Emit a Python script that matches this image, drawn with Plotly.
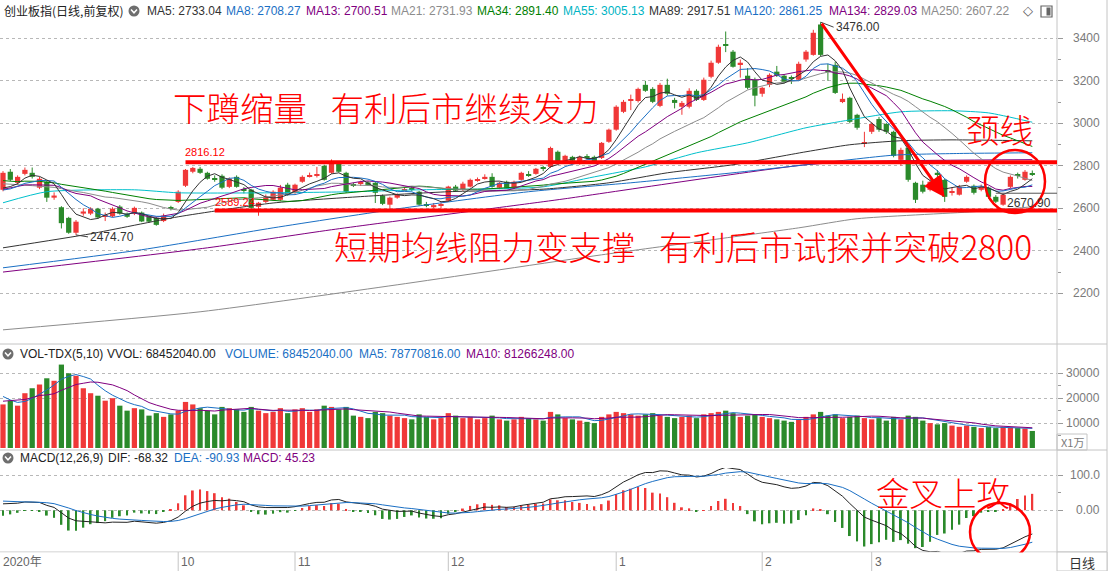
import numpy as np
import pandas as pd
import plotly.graph_objects as go

W, H = 1109, 571

# ---------------- data ----------------
holidays = ["2020-10-01", "2020-10-02", "2020-10-05", "2020-10-06", "2020-10-07", "2020-10-08",
            "2021-01-01", "2021-02-11", "2021-02-12", "2021-02-15", "2021-02-16", "2021-02-17"]
dates = [d.strftime("%Y-%m-%d") for d in pd.bdate_range("2020-08-28", "2021-03-31")
         if d.strftime("%Y-%m-%d") not in holidays]

opens = [
    2687, 2772, 2720, 2762, 2767, 2697, 2725, 2650, 2605, 2555,
    2485, 2575, 2575, 2598, 2560, 2562, 2608, 2575, 2574, 2580,
    2560, 2555, 2540, 2602, 2630, 2706, 2772, 2786, 2767, 2742,
    2753, 2701, 2748, 2690, 2688, 2607, 2630, 2640, 2640, 2711,
    2673, 2725, 2750, 2752, 2800, 2767, 2814, 2767, 2712, 2715,
    2722, 2720, 2659, 2617, 2650, 2685, 2695, 2678, 2620, 2605,
    2612, 2636, 2702, 2687, 2702, 2733, 2739, 2748, 2697, 2725,
    2697, 2734, 2760, 2762, 2790, 2795, 2866, 2819, 2842, 2819,
    2845, 2842, 2837, 2913, 2970, 3054, 3105, 3105, 3181, 3162,
    3082, 3181, 3110, 3078, 3078, 3153, 3110, 3219, 3285, 3370,
    3337, 3276, 3224, 3205, 3139, 3181, 3243, 3224, 3214, 3205,
    3300, 3322, 3465, 3250, 3275, 3100, 3120, 3040, 2905, 2960,
    3020, 2997, 2960, 2828, 2885, 2720, 2711, 2687, 2767, 2734,
    2675, 2664, 2725, 2706, 2687, 2697, 2654, 2617, 2701, 2757,
    2734, 2765]
highs = [
    2775, 2785, 2755, 2792, 2792, 2748, 2730, 2675, 2610, 2560,
    2545, 2600, 2605, 2602, 2580, 2605, 2615, 2580, 2608, 2585,
    2565, 2560, 2575, 2612, 2685, 2785, 2795, 2795, 2772, 2755,
    2760, 2745, 2755, 2700, 2692, 2630, 2665, 2685, 2710, 2720,
    2716, 2755, 2768, 2795, 2805, 2830, 2818, 2772, 2720, 2730,
    2728, 2725, 2665, 2655, 2670, 2700, 2705, 2682, 2630, 2625,
    2628, 2706, 2710, 2725, 2740, 2745, 2760, 2765, 2725, 2730,
    2730, 2772, 2775, 2790, 2800, 2890, 2872, 2852, 2847, 2848,
    2855, 2848, 2912, 2975, 3085, 3110, 3135, 3168, 3200, 3170,
    3190, 3210, 3120, 3105, 3165, 3160, 3215, 3295, 3370, 3432,
    3345, 3300, 3260, 3215, 3172, 3235, 3270, 3232, 3225, 3290,
    3345, 3440, 3476, 3280, 3290, 3140, 3125, 3045, 2960, 3005,
    3030, 3002, 2965, 2885, 2890, 2725, 2730, 2735, 2780, 2740,
    2700, 2710, 2755, 2712, 2712, 2702, 2662, 2670, 2755, 2768,
    2780, 2778]
lows = [
    2680, 2728, 2712, 2755, 2740, 2690, 2630, 2640, 2505, 2480,
    2474.7, 2565, 2568, 2550, 2540, 2558, 2570, 2555, 2568, 2535,
    2532, 2518, 2535, 2590, 2625, 2700, 2765, 2762, 2735, 2725,
    2690, 2695, 2697, 2670, 2595, 2565, 2625, 2635, 2635, 2660,
    2668, 2720, 2745, 2745, 2730, 2762, 2768, 2672, 2700, 2705,
    2705, 2625, 2615, 2595, 2645, 2680, 2680, 2612, 2605, 2600,
    2600, 2630, 2678, 2682, 2698, 2725, 2735, 2697, 2690, 2692,
    2692, 2730, 2748, 2758, 2775, 2790, 2815, 2812, 2815, 2805,
    2830, 2815, 2832, 2908, 2965, 3048, 3062, 3098, 3148, 3095,
    3076, 3130, 3070, 3040, 3070, 3105, 3105, 3212, 3280, 3335,
    3262, 3215, 3160, 3080, 3125, 3170, 3218, 3188, 3185, 3200,
    3290, 3318, 3315, 3200, 3138, 3095, 3000, 2970, 2888, 2950,
    2960, 2950, 2840, 2800, 2725, 2625, 2670, 2680, 2740, 2630,
    2660, 2660, 2720, 2665, 2680, 2645, 2625, 2612, 2695, 2740,
    2730, 2752]
closes = [
    2767, 2734, 2748, 2781, 2748, 2739, 2650, 2660, 2530, 2485,
    2537, 2585, 2598, 2557, 2566, 2598, 2575, 2560, 2602, 2538,
    2537, 2522, 2565, 2597, 2678, 2781, 2790, 2767, 2739, 2737,
    2697, 2739, 2701, 2683, 2602, 2626, 2655, 2678, 2697, 2664,
    2711, 2748, 2755, 2757, 2734, 2816, 2772, 2678, 2707, 2722,
    2710, 2673, 2621, 2650, 2664, 2690, 2690, 2617, 2615, 2615,
    2618, 2702, 2683, 2716, 2734, 2737, 2748, 2701, 2720, 2697,
    2725, 2767, 2755, 2786, 2785, 2884, 2819, 2847, 2824, 2842,
    2840, 2820, 2908, 2970, 3078, 3101, 3112, 3162, 3153, 3101,
    3181, 3139, 3096, 3096, 3153, 3110, 3205, 3285, 3360, 3364,
    3266, 3285, 3167, 3130, 3167, 3228, 3224, 3195, 3210, 3280,
    3337, 3426, 3322, 3243, 3143, 3115, 3007, 2979, 2910, 2997,
    2970, 2960, 2847, 2875, 2734, 2640, 2678, 2725, 2758, 2654,
    2680, 2701, 2748, 2673, 2701, 2654, 2631, 2664, 2748, 2752,
    2772, 2760]
# volume, unit: 10k (X1万)
volumes = [
    17500, 19000, 17000, 22000, 24000, 25500, 28000, 27000, 33500, 30000,
    29000, 24000, 22000, 21000, 19000, 20000, 17000, 15000, 16000, 15500,
    13000, 14000, 12500, 13500, 15000, 18500, 17500, 16000, 15000, 13500,
    16500, 16000, 15500, 14500, 16500, 15000, 14000, 14500, 16000, 14000,
    15500, 16000, 14500, 15500, 17000, 16500, 15500, 16500, 13000, 12500,
    12000, 14500, 14000, 13000, 12500, 12000, 11500, 13500, 12500, 11500,
    12000, 14000, 13000, 12000, 12500, 11500, 12000, 13000, 11500, 11000,
    11500, 12500, 12000, 11500, 11000, 14500, 13500, 12000, 11500, 11000,
    10500, 10000, 12500, 13500, 14500, 14000, 13500, 13000, 13500, 14000,
    13000, 12500, 12000, 12500, 13000, 12000, 13500, 14000, 14500, 15000,
    14000, 12500, 13000, 13500, 12500, 12000, 11500, 11000, 10500, 11500,
    12500, 13500, 14500, 13000, 13500, 12000, 12500, 13000, 12000, 11500,
    12000, 11000, 12500, 11500, 13000, 12500, 11000, 10000, 9500, 10000,
    9000, 8500, 9000, 8500, 8000, 8400, 8000, 8500, 8200, 8000,
    7840, 6845]

# closes / volumes before the window (needed for the moving averages)
pre_closes = [2850, 2800, 2700, 2730, 2780, 2790, 2760, 2770, 2660, 2700, 2710, 2770, 2780, 2800,
              2810, 2790, 2800, 2780, 2740, 2700, 2650, 2640, 2660, 2690, 2740, 2740, 2690, 2650,
              2670, 2700, 2680, 2650, 2680]
pre_volumes = [16000, 17000, 18000, 17000, 16500, 26000, 22000, 20000, 18000]
# MACD state carried in from before the window: EMA12, EMA26, DEA
macd_seed = [2700.0, 2686.0, 28.0]

# long moving averages (day index -> value)
ma55_idx = [0, 6, 18, 24, 37, 48, 57, 68, 74, 81, 88, 95, 102, 110, 116, 123, 130, 135, 141]
ma55_val = [2626, 2678, 2687, 2673, 2673, 2678, 2687, 2692, 2701, 2748, 2795, 2861, 2908, 2979,
            3016, 3054, 3059, 3049, 3005.13]
ma89_idx = [0, 12, 24, 37, 49, 61, 74, 83, 91, 100, 110, 116, 123, 130, 141]
ma89_val = [2414, 2480, 2560, 2625, 2655, 2678, 2690, 2720, 2767, 2805, 2866, 2899, 2918, 2922, 2917.51]
ma120_idx = [0, 19, 37, 55, 72, 86, 100, 110, 122, 131, 141]
ma120_val = [2320, 2405, 2508, 2602, 2678, 2720, 2767, 2805, 2850, 2858, 2861.25]
ma134_idx = [0, 28, 45, 74, 77, 110, 120, 141]
ma134_val = [2300, 2414, 2499, 2631, 2645, 2805, 2822, 2829.03]
ma250_idx = [0, 27, 54, 82, 109, 117, 133, 141]
ma250_val = [2028, 2113, 2240, 2381, 2508, 2551, 2584, 2607.22]

header_main = [("MA5: 2733.04", "#333333"), ("MA8: 2708.27", "#1a6fc4"), ("MA13: 2700.51", "#800080"),
               ("MA21: 2731.93", "#8c8c8c"), ("MA34: 2891.40", "#008000"), ("MA55: 3005.13", "#00b4c4"),
               ("MA89: 2917.51", "#333333"), ("MA120: 2861.25", "#1a6fc4"), ("MA134: 2829.03", "#800080"),
               ("MA250: 2607.22", "#8c8c8c")]
header_main_x = [145, 224, 304, 389, 475, 561, 647, 732, 827, 919]
header_vol = [("VOL-TDX(5,10)", "#222222"), ("VVOL: 68452040.00", "#222222"),
              ("VOLUME: 68452040.00", "#1a6fc4"), ("MA5: 78770816.00", "#1a6fc4"),
              ("MA10: 81266248.00", "#800080")]
header_vol_x = [18, 105, 223, 357, 464]
header_macd = [("MACD(12,26,9)", "#222222"), ("DIF: -68.32", "#222222"), ("DEA: -90.93", "#1a6fc4"),
               ("MACD: 45.23", "#800080")]
header_macd_x = [18, 106, 172, 241]

price_ticks = [2200, 2400, 2600, 2800, 3000, 3200, 3400]
vol_ticks = [10000, 20000, 30000]
macd_ticks = [0, 100]
macd_tick_text = ["0.00", "100.0"]
month_keys = ["10", "11", "12", "01", "02", "03"]
month_labels = ["2020年", "10", "11", "12", "1", "2", "3"]

# ---------------- derived ----------------
N = len(dates)
RED = "#f03838"
GREEN = "#2b8a2b"
up = [c >= o for o, c in zip(opens, closes)]
cols = [RED if u else GREEN for u in up]

allc = pd.Series(pre_closes + closes, dtype=float)
ma = {n: allc.rolling(n).mean().iloc[-N:].tolist() for n in (5, 8, 13, 21, 34)}
allv = pd.Series(pre_volumes + volumes, dtype=float)
vma5 = allv.rolling(5).mean().iloc[-N:].tolist()
vma10 = allv.rolling(10).mean().iloc[-N:].tolist()

e12, e26, dea = macd_seed
difs, deas, hists = [], [], []
for c in closes:
    e12 += 2 / 13 * (c - e12)
    e26 += 2 / 27 * (c - e26)
    d = e12 - e26
    dea += 2 / 10 * (d - dea)
    difs.append(d)
    deas.append(dea)
    hists.append(2 * (d - dea))

# ---------------- geometry ----------------
XL, XR = 0, 1057            # plot area in px
STEP = 7.3
X0 = 3
xr = [(XL - X0) / STEP, (XR - X0) / STEP]


def fx(px):
    return px / W


def fy(py):
    return 1 - py / H


main_dom = [fy(343), fy(20)]
vol_dom = [fy(448), fy(362)]
macd_dom = [fy(552), fy(468)]
p_top, p_bot = 3400 + (38.3 - 20) * 4.706, 2200 - (343 - 293.3) * 4.706
v_top = (448 - 362) / 0.00249
m_per_px = 100 / 35.3
m_top, m_bot = (510.3 - 468) * m_per_px, -(552 - 510.3) * m_per_px

fig = go.Figure()

# candles
fig.add_trace(go.Bar(x=dates, y=[max(abs(c - o), 4) for o, c in zip(opens, closes)],
                     base=[min(o, c) for o, c in zip(opens, closes)], width=0.72,
                     marker=dict(color=cols, line=dict(width=0)), xaxis="x", yaxis="y"))
for colr, flag in ((RED, True), (GREEN, False)):
    wx, wy = [], []
    for i in range(N):
        if up[i] == flag:
            wx += [dates[i], dates[i], None]
            wy += [lows[i], highs[i], None]
    fig.add_trace(go.Scatter(x=wx, y=wy, mode="lines", line=dict(color=colr, width=1),
                             xaxis="x", yaxis="y"))

# moving averages
for idx, val, colr in ((ma250_idx, ma250_val, "#8c8c8c"), (ma134_idx, ma134_val, "#800080"),
                       (ma120_idx, ma120_val, "#1a6fc4"), (ma89_idx, ma89_val, "#333333"),
                       (ma55_idx, ma55_val, "#00c0cc")):
    fig.add_trace(go.Scatter(x=[dates[i] for i in idx], y=val, mode="lines",
                             line=dict(color=colr, width=1, shape="spline", smoothing=0.6),
                             xaxis="x", yaxis="y"))
for n, colr in ((34, "#008000"), (21, "#8c8c8c"), (13, "#800080"), (8, "#1a6fc4"), (5, "#333333")):
    fig.add_trace(go.Scatter(x=dates, y=ma[n], mode="lines", line=dict(color=colr, width=1),
                             xaxis="x", yaxis="y"))

# volume
fig.add_trace(go.Bar(x=dates, y=volumes, width=0.72, marker=dict(color=cols, line=dict(width=0)),
                     xaxis="x2", yaxis="y2"))
fig.add_trace(go.Scatter(x=dates, y=vma5, mode="lines", line=dict(color="#1a6fc4", width=1),
                         xaxis="x2", yaxis="y2"))
fig.add_trace(go.Scatter(x=dates, y=vma10, mode="lines", line=dict(color="#800080", width=1),
                         xaxis="x2", yaxis="y2"))

# MACD
fig.add_trace(go.Bar(x=dates, y=hists, width=0.26,
                     marker=dict(color=[RED if h >= 0 else GREEN for h in hists], line=dict(width=0)),
                     xaxis="x3", yaxis="y3"))
fig.add_trace(go.Scatter(x=dates, y=difs, mode="lines", line=dict(color="#222222", width=1),
                         xaxis="x3", yaxis="y3"))
fig.add_trace(go.Scatter(x=dates, y=deas, mode="lines", line=dict(color="#1a6fc4", width=1),
                         xaxis="x3", yaxis="y3"))

axis_x = dict(type="category", range=xr, domain=[fx(XL), fx(XR)], showticklabels=False,
              showgrid=False, zeroline=False, ticks="", fixedrange=True)
GRID = "#b8b8b8"
TICKC = "#9a9a9a"


def yax(dom, rng, tv, minor_tv, anchor):
    return dict(domain=dom, range=rng, side="right", anchor=anchor, tickvals=tv, ticks="outside",
                ticklen=5, tickcolor=TICKC, showticklabels=False, showgrid=True, gridcolor=GRID,
                griddash="dot", gridwidth=1, zeroline=False, showline=False,
                minor=dict(tickvals=minor_tv, ticks="outside", ticklen=3, tickcolor=TICKC, showgrid=False))


fig.update_layout(
    width=W, height=H, autosize=False, margin=dict(l=0, r=0, t=0, b=0),
    paper_bgcolor="white", plot_bgcolor="white", showlegend=False, barmode="overlay",
    hovermode=False,
    xaxis=dict(axis_x, anchor="y"),
    xaxis2=dict(axis_x, anchor="y2", matches="x"),
    xaxis3=dict(axis_x, anchor="y3", matches="x"),
    yaxis=yax(main_dom, [p_bot, p_top], price_ticks, [v + 100 for v in price_ticks[:-1]], "x"),
    yaxis2=yax(vol_dom, [0, v_top], vol_ticks, [5000, 15000, 25000], "x2"),
    yaxis3=yax(macd_dom, [m_bot, m_top], macd_ticks, [50], "x3"),
)

ann = []
shapes = []
LAB = dict(family="Liberation Sans, Arial, sans-serif", size=12)

# right axis labels
for v in price_ticks:
    ann.append(dict(xref="paper", yref="y", x=fx(1102), y=v, text=str(v), showarrow=False,
                    xanchor="right", yanchor="middle", font=dict(LAB, color="#7a7a7a")))
for v in vol_ticks:
    ann.append(dict(xref="paper", yref="y2", x=fx(1102), y=v, text=str(v), showarrow=False,
                    xanchor="right", yanchor="middle", font=dict(LAB, color="#7a7a7a")))
for v, t in zip(macd_ticks, macd_tick_text):
    ann.append(dict(xref="paper", yref="y3", x=fx(1102), y=v, text=t, showarrow=False,
                    xanchor="right", yanchor="middle", font=dict(LAB, color="#7a7a7a")))

# headers
ann.append(dict(xref="paper", yref="paper", x=fx(2), y=fy(11), text="创业板指(日线,前复权)", showarrow=False,
                xanchor="left", yanchor="middle",
                font=dict(family="Noto Sans CJK SC, sans-serif", size=12, color="#222222")))
for (t, c), px in zip(header_main, header_main_x):
    ann.append(dict(xref="paper", yref="paper", x=fx(px), y=fy(11), text=t, showarrow=False,
                    xanchor="left", yanchor="middle", font=dict(LAB, color=c)))
for (t, c), px in zip(header_vol, header_vol_x):
    ann.append(dict(xref="paper", yref="paper", x=fx(px), y=fy(354), text=t, showarrow=False,
                    xanchor="left", yanchor="middle", font=dict(LAB, color=c)))
for (t, c), px in zip(header_macd, header_macd_x):
    ann.append(dict(xref="paper", yref="paper", x=fx(px), y=fy(458), text=t, showarrow=False,
                    xanchor="left", yanchor="middle", font=dict(LAB, color=c)))

# header icons (grey circle with chevron)
for cx, cy in ((134, 11), (8, 354), (8, 458)):
    shapes.append(dict(type="circle", xref="paper", yref="paper", x0=fx(cx - 5.5), x1=fx(cx + 5.5),
                       y0=fy(cy + 5.5), y1=fy(cy - 5.5), fillcolor="#6e6e6e", line=dict(width=0)))
    shapes.append(dict(type="path", xref="paper", yref="paper",
                       path=f"M {fx(cx - 3)} {fy(cy - 1.5)} L {fx(cx)} {fy(cy + 1.8)} L {fx(cx + 3)} {fy(cy - 1.5)}",
                       line=dict(color="white", width=1.5)))
ann.append(dict(xref="paper", yref="paper", x=fx(1028), y=fy(11), text="◇", showarrow=False,
                xanchor="center", yanchor="middle", font=dict(family="DejaVu Sans", size=13, color="#555")))
shapes.append(dict(type="rect", xref="paper", yref="paper", x0=fx(1041), x1=fx(1052), y0=fy(17), y1=fy(6),
                   line=dict(color="#666", width=1.2), fillcolor="white"))
shapes.append(dict(type="rect", xref="paper", yref="paper", x0=fx(1046.5), x1=fx(1050.5), y0=fy(15.5), y1=fy(7.5),
                   line=dict(width=0), fillcolor="#666"))

# panel frames
FR = "#c4c4c4"
for py in (344, 450, 552):
    shapes.append(dict(type="line", xref="paper", yref="paper", x0=0, x1=fx(1107), y0=fy(py), y1=fy(py),
                       line=dict(color=FR, width=1)))
for px in (XR, 1107):
    shapes.append(dict(type="line", xref="paper", yref="paper", x0=fx(px), x1=fx(px), y0=0, y1=1,
                       line=dict(color=FR, width=1)))
shapes.append(dict(type="rect", xref="paper", yref="paper", x0=fx(XR), x1=fx(1087), y0=fy(450), y1=fy(434),
                   line=dict(color=FR, width=1)))
ann.append(dict(xref="paper", yref="paper", x=fx(1072), y=fy(442), text="X1万", showarrow=False,
                xanchor="center", yanchor="middle",
                font=dict(family="Noto Sans CJK SC, sans-serif", size=11, color="#7a7a7a")))

# annotations on the price pane
RED_LINE = "#ff0000"
lvl_hi, lvl_lo = 2816.12, 2589.24
shapes.append(dict(type="line", xref="x", yref="y", x0=dates[25], x1=xr[1], y0=lvl_hi, y1=lvl_hi,
                   line=dict(color=RED_LINE, width=4)))
shapes.append(dict(type="line", xref="x", yref="y", x0=dates[29], x1=xr[1], y0=lvl_lo, y1=lvl_lo,
                   line=dict(color=RED_LINE, width=4)))
ann.append(dict(xref="x", yref="y", x=dates[25], y=lvl_hi, yshift=10, xshift=-3, text=f"{lvl_hi:.2f}",
                showarrow=False, xanchor="left", yanchor="middle", font=dict(LAB, size=11, color=RED_LINE)))
ann.append(dict(xref="x", yref="y", x=dates[29], y=lvl_lo, yshift=9, xshift=-2, text=f"{lvl_lo:.2f}",
                showarrow=False, xanchor="left", yanchor="middle", font=dict(LAB, size=11, color=RED_LINE)))

i_hi = int(np.argmax(highs))
i_lo = int(np.argmin(lows))
ann.append(dict(xref="x", yref="y", x=dates[i_hi], y=highs[i_hi], ax=13, ay=5, text=f"{highs[i_hi]:.2f}",
                showarrow=True, arrowhead=0, arrowwidth=1, arrowcolor="#444", xanchor="left", yanchor="middle",
                font=dict(LAB, color="#333")))
ann.append(dict(xref="x", yref="y", x=dates[i_lo], y=lows[i_lo], ax=12, ay=2, text=f"{lows[i_lo]:.2f}",
                showarrow=True, arrowhead=0, arrowwidth=1, arrowcolor="#444", xanchor="left", yanchor="middle",
                font=dict(LAB, color="#333")))
low2 = 2670.90
shapes.append(dict(type="line", xref="x", yref="y", x0=dates[136], x1=xr[1], y0=low2, y1=low2,
                   line=dict(color="#555", width=1)))
ann.append(dict(xref="x", yref="y", x=dates[137], y=low2, yshift=-10, xshift=2, text=f"{low2:.2f}",
                showarrow=False, xanchor="left", yanchor="middle", font=dict(LAB, color="#333")))

# big red arrow from the top
ann.append(dict(xref="x", yref="y", axref="x", ayref="y", x=dates[129], y=2652, ax=dates[i_hi], ay=highs[i_hi],
                text="", showarrow=True, arrowhead=2, arrowsize=1.4, arrowwidth=3, arrowcolor=RED_LINE))

# circles
shapes.append(dict(type="circle", xref="paper", yref="paper", x0=fx(985), x1=fx(1045), y0=fy(213), y1=fy(150),
                   line=dict(color=RED_LINE, width=2.5)))
shapes.append(dict(type="circle", xref="paper", yref="paper", x0=fx(970), x1=fx(1030), y0=fy(561), y1=fy(503),
                   line=dict(color=RED_LINE, width=2.5)))

# bottom date strip (covers circle overflow)
shapes.append(dict(type="rect", xref="paper", yref="paper", x0=0, x1=fx(XR), y0=0, y1=fy(552.5),
                   fillcolor="white", line=dict(width=0), layer="above"))
shapes.append(dict(type="rect", xref="paper", yref="paper", x0=fx(XR), x1=fx(1107), y0=0, y1=fy(552),
                   fillcolor="white", line=dict(color=FR, width=1), layer="above"))
ann.append(dict(xref="paper", yref="paper", x=fx(1082), y=fy(562), text="日线", showarrow=False,
                xanchor="center", yanchor="middle",
                font=dict(family="Noto Sans CJK SC, sans-serif", size=13, color="#333")))
month_idx = [0] + [next(i for i, d in enumerate(dates) if d[5:7] == m) for m in month_keys]
for k, (i, lab) in enumerate(zip(month_idx, month_labels)):
    if k > 0:
        shapes.append(dict(type="line", xref="x3", yref="paper", x0=dates[i], x1=dates[i],
                           y0=0, y1=fy(552), line=dict(color=FR, width=1), layer="above"))
    ann.append(dict(xref="x3", yref="paper", x=dates[i], y=fy(562), xshift=1 if k else -2, text=lab,
                    showarrow=False, xanchor="left", yanchor="middle",
                    font=dict(family="Liberation Sans, Noto Sans CJK SC, sans-serif", size=12, color="#666")))

# big captions
GAP = "\u2002\u2009"
BIG = dict(family="Noto Sans CJK SC, sans-serif", size=33.5, color=RED_LINE, weight=300)
for txt, px, py in (("下蹲缩量" + GAP + "有利后市继续发力", 171, 106),
                    ("短期均线阻力变支撑" + GAP + "有利后市试探并突破2800", 332, 245),
                    ("颈线", 964, 128), ("金叉上攻", 874, 491)):
    ann.append(dict(xref="paper", yref="paper", x=fx(px), y=fy(py), text=txt, showarrow=False,
                    xanchor="left", yanchor="middle", font=BIG))

fig.update_layout(annotations=ann, shapes=shapes)
fig.write_html("out.html")
